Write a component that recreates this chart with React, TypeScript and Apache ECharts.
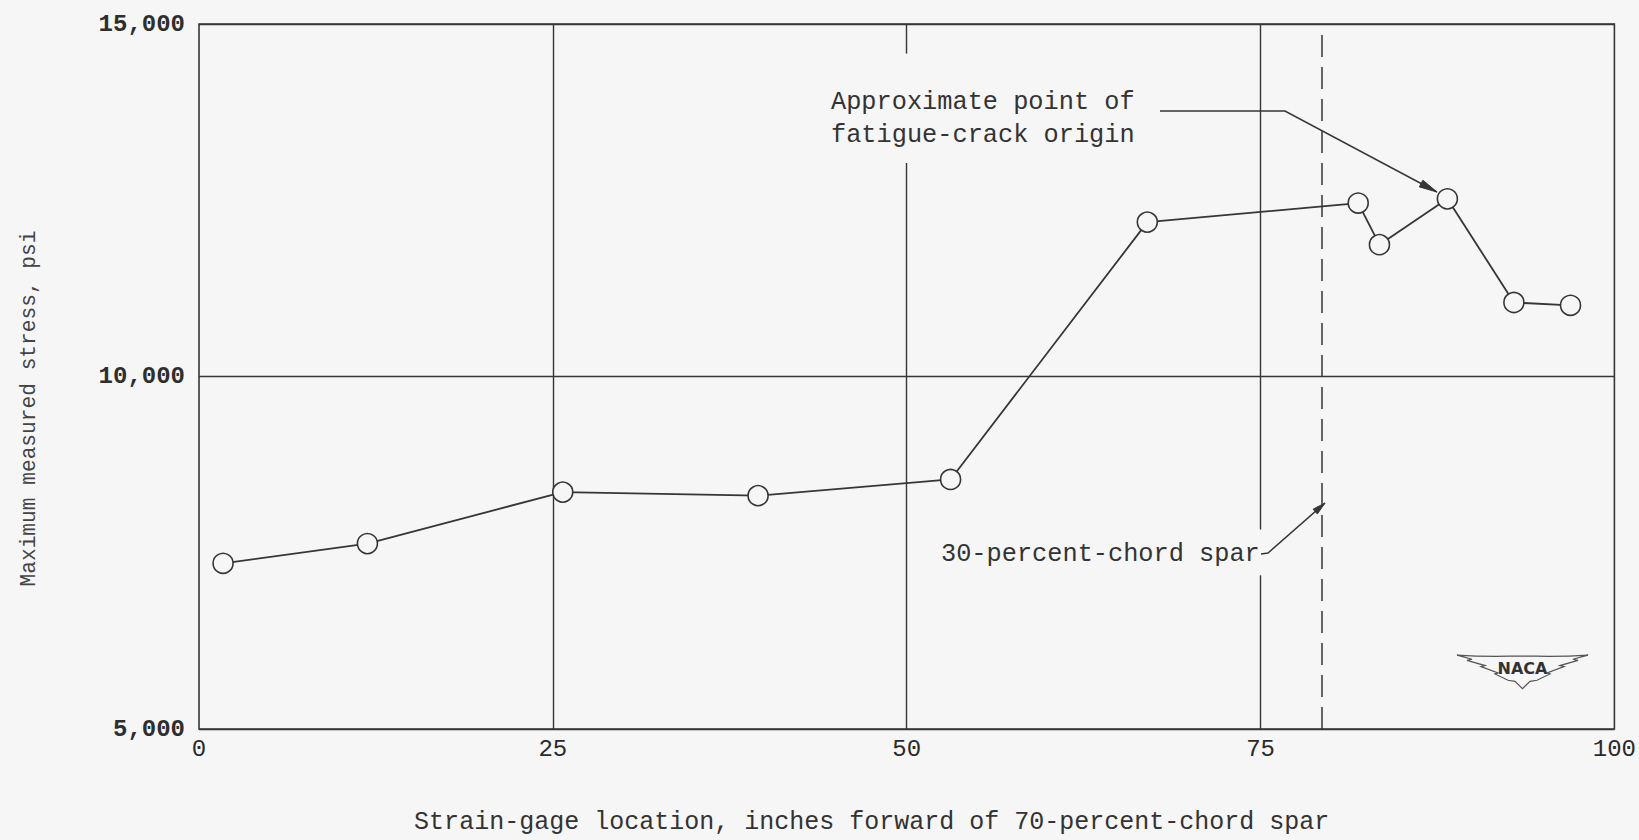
import React, { useEffect, useRef } from "react";
import * as echarts from "echarts";

// ---- data ----
const gageLocation = [1.7, 11.9, 25.7, 39.5, 53.1, 67.0, 81.9, 83.4, 88.2, 92.9, 96.9];
const maxStress = [7350, 7630, 8360, 8310, 8540, 12190, 12460, 11870, 12520, 11050, 11010];
const xTickValues = [0, 25, 50, 75, 100];
const yTickValues = [5000, 10000, 15000];
const sparLocation = 79.3; // 30-percent-chord spar (dashed)
// vertical grid segments [x, yFrom, yTo] (grid lines are interrupted around annotations)
const verticalGridSegments = [
  [25, 5000, 15000],
  [50, 14580, 15000],
  [50, 5000, 13030],
  [75, 7830, 15000],
  [75, 5000, 7180],
];

const xTitle = "Strain-gage location, inches forward of 70-percent-chord spar";
const yTitle = "Maximum measured stress, psi";
const noteCrack = ["Approximate point of", "fatigue-crack origin"];
const noteSpar = "30-percent-chord spar";

const INK = "#363636";
const BG = "#f6f6f6";
const MONO = "'Liberation Mono', 'DejaVu Sans Mono', monospace";

const WING_PATH =
  "M0,1 C30,3 50,2 60,2 L71,2 C81,2 101,3 131,1 L116,5 L121,6 L103,11 L107,12 L90,18 L93,19 L80,25 L73,26 L65.5,33 L58,26 L51,25 L38,19 L41,18 L24,12 L28,11 L10,6 L15,5 Z";

let registered = false;
function registerLogo() {
  if (registered) return;
  echarts.graphic.registerShape("logo", echarts.graphic.extendPath(WING_PATH, {}) as any);
  registered = true;
}

function arrowHead(tip: number[], from: number[], len: number, hw: number) {
  const dx = tip[0] - from[0];
  const dy = tip[1] - from[1];
  const d = Math.hypot(dx, dy);
  const ux = dx / d;
  const uy = dy / d;
  const bx = tip[0] - ux * len;
  const by = tip[1] - uy * len;
  return [tip, [bx - uy * hw, by + ux * hw], [bx + uy * hw, by - ux * hw]];
}

export default function App() {
  const ref = useRef<HTMLDivElement>(null);

  useEffect(() => {
    if (!ref.current) return;
    registerLogo();
    const chart = echarts.init(ref.current, undefined, { renderer: "svg" });

    const crackBend = [1285, 111];
    const crackTip = [1437, 192];
    const sparBend = [1268, 553];
    const sparTip = [1325, 503];

    const markData: any[] = verticalGridSegments.map((s) => [
      { coord: [s[0], s[1]] },
      { coord: [s[0], s[2]] },
    ]);
    markData.push([
      { coord: [sparLocation, 5000], lineStyle: { type: [22, 10], width: 1.5, color: INK } },
      { coord: [sparLocation, 15000] },
    ]);

    const option: any = {
      animation: false,
      backgroundColor: BG,
      grid: {
        left: 199,
        top: 24,
        right: 18,
        bottom: 102,
        show: true,
        borderColor: INK,
        borderWidth: 1.6,
        backgroundColor: "transparent",
      },
      xAxis: {
        type: "value",
        min: xTickValues[0],
        max: xTickValues[xTickValues.length - 1],
        interval: 25,
        axisLine: { show: false },
        axisTick: { show: false },
        splitLine: { show: false },
        axisLabel: {
          fontFamily: MONO,
          fontSize: 24,
          color: "#2a2a2a",
          margin: 8,
          formatter: (v: number) => (xTickValues.includes(v) ? String(v) : ""),
        },
        name: xTitle,
        nameLocation: "middle",
        nameGap: 81,
        nameTextStyle: {
          fontFamily: MONO,
          fontSize: 25,
          color: "#333",
          padding: [0, 70, 0, 0],
        },
      },
      yAxis: {
        type: "value",
        min: yTickValues[0],
        max: yTickValues[yTickValues.length - 1],
        interval: 5000,
        axisLine: { show: false },
        axisTick: { show: false },
        splitLine: { show: true, lineStyle: { color: INK, width: 1.4 } },
        axisLabel: {
          fontFamily: MONO,
          fontSize: 24,
          fontWeight: "bold",
          color: "#2e2e2e",
          margin: 14,
          formatter: (v: number) => v.toLocaleString("en-US"),
        },
        name: yTitle,
        nameLocation: "middle",
        nameGap: 160,
        nameTextStyle: {
          fontFamily: MONO,
          fontSize: 21.2,
          color: "#444",
          padding: [0, 64, 0, 0],
        },
      },
      series: [
        {
          type: "line",
          data: gageLocation.map((x, i) => [x, maxStress[i]]),
          symbol: "circle",
          symbolSize: 20,
          z: 5,
          lineStyle: { color: INK, width: 1.8 },
          itemStyle: { color: BG, borderColor: INK, borderWidth: 1.6 },
          markLine: {
            silent: true,
            symbol: ["none", "none"],
            label: { show: false },
            lineStyle: { color: INK, width: 1.4, type: "solid" },
            data: markData,
            z: 1,
          },
        },
      ],
      graphic: [
        {
          type: "text",
          x: 831,
          y: 102,
          style: {
            text: noteCrack[0],
            fontFamily: MONO,
            fontSize: 25.3,
            fill: "#333",
            align: "left",
            verticalAlign: "middle",
          },
        },
        {
          type: "text",
          x: 831,
          y: 135,
          style: {
            text: noteCrack[1],
            fontFamily: MONO,
            fontSize: 25.3,
            fill: "#333",
            align: "left",
            verticalAlign: "middle",
          },
        },
        {
          type: "polyline",
          shape: { points: [[1160, 111], crackBend, crackTip] },
          style: { stroke: INK, lineWidth: 1.5, fill: "none" },
          z: 10,
        },
        {
          type: "polygon",
          shape: { points: arrowHead(crackTip, crackBend, 18, 3.8) },
          style: { fill: INK, stroke: INK, lineWidth: 1 },
          z: 10,
        },
        {
          type: "text",
          x: 941,
          y: 554,
          style: {
            text: noteSpar,
            fontFamily: MONO,
            fontSize: 25.3,
            fill: "#333",
            align: "left",
            verticalAlign: "middle",
          },
        },
        {
          type: "polyline",
          shape: { points: [[1261, 554], sparBend, sparTip] },
          style: { stroke: INK, lineWidth: 1.5, fill: "none" },
          z: 10,
        },
        {
          type: "polygon",
          shape: { points: arrowHead(sparTip, sparBend, 13, 3.2) },
          style: { fill: INK, stroke: INK, lineWidth: 1 },
          z: 10,
        },
        {
          type: "logo",
          x: 1457,
          y: 654,
          scaleX: 1,
          scaleY: 1.05,
          style: { fill: BG, stroke: "#555", lineWidth: 1.2 },
          z: 10,
        },
        {
          type: "text",
          x: 1522.5,
          y: 668,
          style: {
            text: "NACA",
            fontFamily: "'DejaVu Sans', sans-serif",
            fontSize: 16,
            fontWeight: "bold",
            fill: "#333",
            align: "center",
            verticalAlign: "middle",
          },
          z: 11,
        },
      ],
    };

    chart.setOption(option);
    return () => chart.dispose();
  }, []);

  return (
    <div
      ref={ref}
      style={{ position: "fixed", left: 0, top: 0, width: 1639, height: 840, background: BG }}
    />
  );
}
